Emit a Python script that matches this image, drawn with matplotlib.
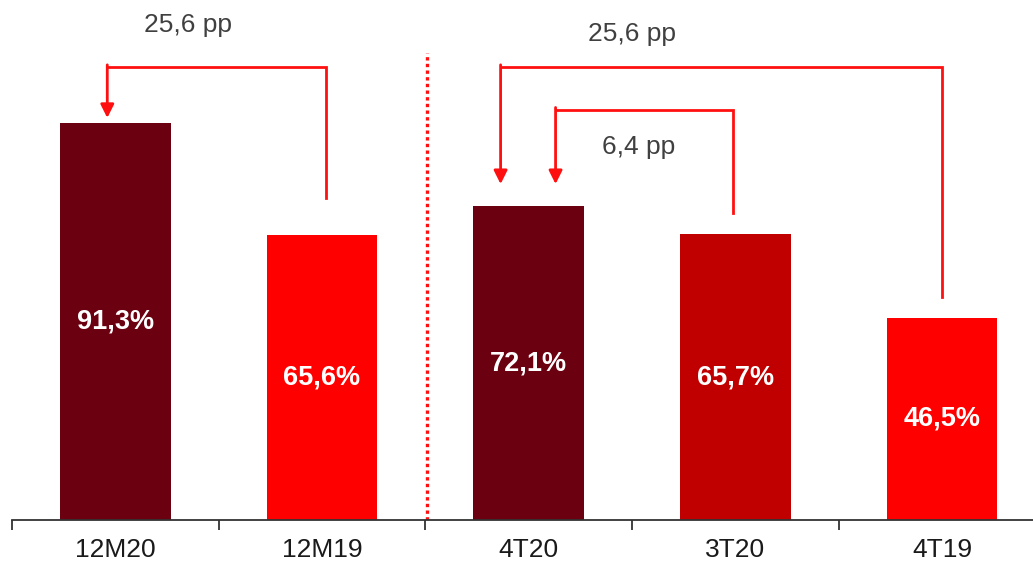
import matplotlib
matplotlib.use("Agg")
import matplotlib.pyplot as plt

plt.rcParams['font.family'] = ['Liberation Sans', 'DejaVu Sans']

categories = ["12M20", "12M19", "4T20", "3T20", "4T19"]
values = [91.3, 65.6, 72.1, 65.7, 46.5]
value_labels = ["91,3%", "65,6%", "72,1%", "65,7%", "46,5%"]
bar_colors = ["#6B0010", "#FF0000", "#6B0010", "#C00000", "#FF0000"]
diff_labels = ["25,6 pp", "25,6 pp", "6,4 pp"]

RED = "#FF1010"

fig = plt.figure(figsize=(10.33, 5.64), dpi=100)
ax = fig.add_axes([12 / 1033, 44 / 564, 1 - 12 / 1033, 520 / 564])

x = list(range(len(categories)))
ax.bar(x, values, width=0.535, color=bar_colors, zorder=2)

for xi, v, lab in zip(x, values, value_labels):
    ax.text(xi, v / 2, lab, ha="center", va="center", color="white",
            fontsize=19.5, fontweight="bold", zorder=3)

# category axis: baseline with ticks between the groups
for s in ["top", "right", "left"]:
    ax.spines[s].set_visible(False)
ax.spines["bottom"].set_color("#333333")
ax.spines["bottom"].set_linewidth(1.3)
ax.set_yticks([])
ax.set_xticks([-0.5, 0.5, 1.5, 2.5, 3.5], minor=False)
ax.set_xticklabels([])
ax.set_xticks(x, minor=True)
ax.set_xticklabels(categories, minor=True, fontsize=19, color="#1a1a1a")
ax.tick_params(axis="x", which="major", length=7, width=1.3, color="#333333")
ax.tick_params(axis="x", which="minor", length=0, pad=13)

ax.set_xlim(-0.5, 4.44)
ax.set_ylim(0, 119.5)

# dotted separator between annual and quarterly groups
ax.plot([1.506, 1.506], [0, 107.4], color=RED, linestyle=(0, (1, 1.0)),
        linewidth=2.4, zorder=1)


def bracket(x_from, x_to, y_top, y_start, y_tip):
    ax.plot([x_from, x_from, x_to], [y_start, y_top, y_top],
            color=RED, linewidth=2, solid_joinstyle="miter", zorder=4)
    ax.annotate("", xy=(x_to, y_tip), xytext=(x_to, y_top + 0.5),
                arrowprops=dict(arrowstyle="-|>,head_length=0.8,head_width=0.4",
                                color=RED, lw=2, shrinkA=0, shrinkB=0),
                zorder=4)


bracket(1.017, -0.039, 104.1, 74.0, 92.4)
bracket(4.0, 1.864, 104.1, 51.3, 77.2)
bracket(2.99, 2.13, 94.3, 70.6, 77.2)

ax.text(0.35, 113.8, diff_labels[0], ha="center", va="center", fontsize=19, color="#404040")
ax.text(2.5, 111.7, diff_labels[1], ha="center", va="center", fontsize=19, color="#404040")
ax.text(2.53, 85.7, diff_labels[2], ha="center", va="center", fontsize=19, color="#404040")

fig.savefig("out.png", dpi=100)
